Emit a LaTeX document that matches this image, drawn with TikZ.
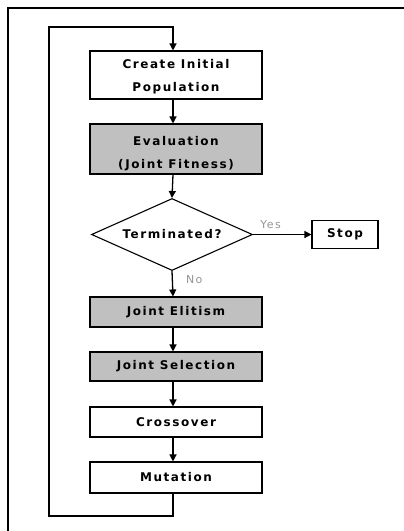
\documentclass[tikz,border=0pt]{standalone}
\usepackage{fontspec}
\setmainfont{DejaVu Sans}[LetterSpace=13]
\newfontfamily\lblfont{DejaVu Sans}[LetterSpace=12]
\usetikzlibrary{shapes.geometric,arrows.meta}
\definecolor{boxgrey}{RGB}{192,192,192}
\definecolor{lblgrey}{RGB}{150,150,150}
\begin{document}
\begin{tikzpicture}[x=1pt,y=-1pt,
  line width=1.3pt,
  arr/.style={-{Triangle[length=7pt,width=7pt]}},
  proc/.style={draw, minimum width=172pt, minimum height=30pt, inner sep=0pt,
    font=\fontsize{12}{23}\selectfont\bfseries, align=center, line width=1.1pt},
  grey/.style={proc, fill=boxgrey},
  lbl/.style={font=\fontsize{11}{12}\selectfont\lblfont, text=lblgrey, inner sep=0pt}]
\useasboundingbox (0,0) rectangle (404,531);
\clip (0,0) rectangle (404,531);
\fill[white] (0,0) rectangle (404,531);
\draw[line width=1.1pt] (8,540) -- (8,8) -- (420,8);
\node[proc, minimum height=48pt] (create) at (176,75) {\rule{0pt}{13pt}Create Initial\\Population};
\node[grey, minimum height=50pt] (eval) at (176,149) {\rule{0pt}{18pt}Evaluation\\(Joint Fitness)};
\node[draw, diamond, aspect=2.24, minimum width=161pt, minimum height=72pt, inner sep=0pt,
  line width=1.1pt, font=\fontsize{12}{14}\selectfont\bfseries] (term) at (172,234.5) {Terminated?};
\node[proc, minimum width=66pt, minimum height=28pt] (stop) at (345,234.5) {Stop};
\node[grey] (elit) at (176,312) {Joint Elitism};
\node[grey, minimum height=29pt] (sel) at (176,366.5) {Joint Selection};
\node[proc] (cross) at (176,422) {Crossover};
\node[proc, minimum height=31pt] (mut) at (176,477.5) {Mutation};
\coordinate (tl) at (49,27);
\coordinate (bl) at (49,516);
\draw[arr] (mut.south -| 173,0) |- (bl) -- (tl) -| (create.north -| 173,0);
\draw[arr] (create.south -| 173,0) -- (eval.north -| 173,0);
\draw[arr] (eval.south -| 173,0) -- (term.north);
\draw[arr] (term.east) -- node[lbl, pos=0.3, above=5pt] {Yes} (stop.west);
\draw[arr] (term.south) -- node[lbl, pos=0.35, right=13pt] {No} (elit.north -| 173,0);
\draw[arr] (elit.south -| 173,0) -- (sel.north -| 173,0);
\draw[arr] (sel.south -| 173,0) -- (cross.north -| 173,0);
\draw[arr] (cross.south -| 173,0) -- (mut.north -| 173,0);
\end{tikzpicture}
\end{document}
